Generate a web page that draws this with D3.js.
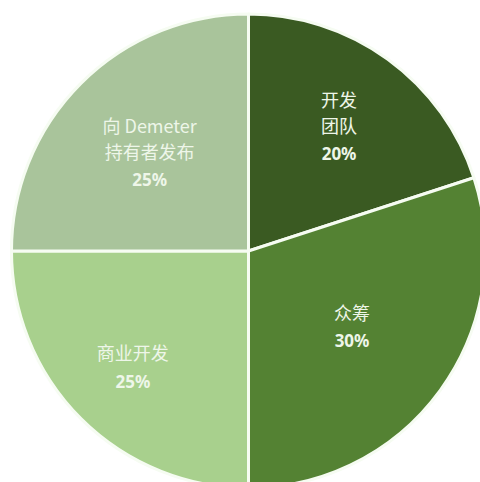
<!DOCTYPE html>
<html>
<head>
<meta charset="utf-8">
<script src="https://cdn.jsdelivr.net/npm/d3@7"></script>
<style>
  html, body { margin: 0; padding: 0; background: #ffffff; }
  svg { display: block; }
</style>
</head>
<body>
<svg id="chart" width="480" height="482"></svg>
<script>
// Token allocation shares (percent)
const categories = ["开发团队", "众筹", "商业开发", "向 Demeter 持有者发布"];
const labelLines = [["开发", "团队"], ["众筹"], ["商业开发"], ["向 Demeter", "持有者发布"]];
const values = [20, 30, 25, 25];
const pctLabels = ["20%", "30%", "25%", "25%"];

// Layout and styling
const colors = ["#3a5a22", "#548233", "#a8d08d", "#a9c49b"];
const labelRadius = [0.65, 0.54, 0.69, 0.59];
const cx = 248.5, cy = 251, R = 237;
const nameLineH = 26, pctGap = 29;

const svg = d3.select("#chart");
const g = svg.append("g").attr("transform", `translate(${cx},${cy})`);

const data = categories.map((c, i) => ({ name: c, lines: labelLines[i], value: values[i], pct: pctLabels[i], idx: i }));

const pie = d3.pie().sort(null).value(d => d.value).startAngle(0).endAngle(2 * Math.PI);
const arcs = pie(data);
const arc = d3.arc().innerRadius(0).outerRadius(R);

g.selectAll("path.slice")
  .data(arcs)
  .join("path")
  .attr("class", "slice")
  .attr("d", arc)
  .attr("fill", d => colors[d.data.idx])
  .attr("stroke", "#f6fcf2")
  .attr("stroke-width", 3)
  .attr("stroke-linejoin", "round");

const labels = g.selectAll("g.label")
  .data(arcs)
  .join("g")
  .attr("class", "label")
  .attr("transform", d => {
    const r = R * labelRadius[d.data.idx];
    const c = d3.arc().innerRadius(r).outerRadius(r).centroid(d);
    return `translate(${c[0]},${c[1]})`;
  });

labels.each(function(d) {
  const sel = d3.select(this);
  const n = d.data.lines.length;
  const total = (n - 1) * nameLineH + pctGap;
  const top = -total / 2;
  d.data.lines.forEach((t, k) => {
    sel.append("text")
      .attr("x", 0)
      .attr("y", top + k * nameLineH)
      .attr("text-anchor", "middle")
      .attr("dominant-baseline", "central")
      .attr("font-family", "'Noto Sans CJK SC', 'Noto Sans', sans-serif")
      .attr("font-size", 18)
      .attr("fill", "#eef6e9")
      .text(t);
  });
  sel.append("text")
    .attr("x", 0)
    .attr("y", top + (n - 1) * nameLineH + pctGap)
    .attr("text-anchor", "middle")
    .attr("dominant-baseline", "central")
    .attr("font-family", "'Noto Sans', 'Noto Sans CJK SC', sans-serif")
    .attr("font-weight", "bold")
    .attr("font-size", 17)
    .attr("fill", "#eef6e9")
    .text(d.data.pct);
});
</script>
</body>
</html>
